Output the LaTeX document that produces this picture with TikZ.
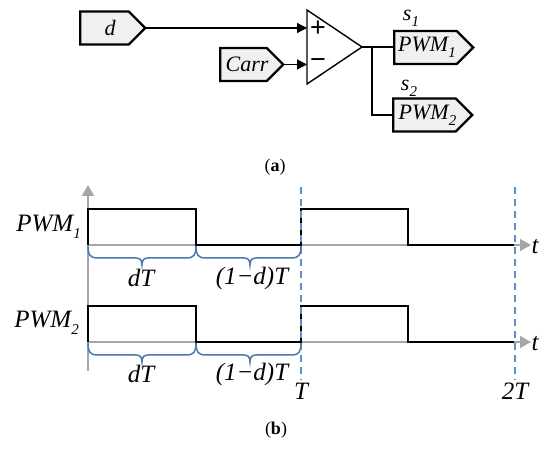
\documentclass[tikz,border=0pt]{standalone}
\usepackage{fontspec}
\setmainfont{Liberation Serif}
\setsansfont{Liberation Sans}
\usetikzlibrary{arrows.meta,shapes.geometric,shapes.symbols}
\definecolor{cfill}{HTML}{F0F0F0}
\definecolor{caxis}{HTML}{A6A6A6}
\definecolor{cdash}{HTML}{5B8FD0}
\definecolor{cbrace}{HTML}{4A78B0}
\newcommand{\lowidx}[1]{\raisebox{-0.28em}{\fontsize{15}{15}\selectfont #1}}
\newcommand{\pwm}[1]{PWM\lowidx{#1}}
\newcommand{\inset}[2]{\makebox[0pt]{\kern#1pt #2}}

\begin{document}
\begin{tikzpicture}[
  x=1pt, y=-1pt,
  inout/.style={signal, signal to=east, signal pointer angle=90, draw, fill=cfill, line width=2.2pt,
                inner sep=0pt, outer sep=0pt, minimum height=33pt, minimum width=#1,
                font=\fontsize{22}{24}\selectfont\itshape},
  comparator/.style={isosceles triangle, isosceles triangle stretches, draw, line width=1.4pt, fill=white,
                inner sep=0pt, outer sep=0pt, minimum width=74pt, minimum height=55pt, anchor=apex},
  wire/.style={line width=1.3pt},
  input/.style={-{Triangle[length=10pt,width=10pt]}, line width=1.3pt},
  axis/.style={-{Triangle[length=11pt,width=12pt]}, line width=1.6pt, draw=caxis},
  wave/.style={line width=1.5pt, line join=miter},
  period/.style={line width=1.1pt, draw=cdash, dash pattern=on 7pt off 5pt},
  span/.style={line width=1.5pt, draw=cbrace},
  lbl/.style={font=\fontsize{25}{27}\selectfont\itshape, inner sep=0pt},
  sig/.style={font=\fontsize{22}{24}\selectfont\itshape, inner sep=0pt},
  subcap/.style={font=\fontsize{18}{20}\selectfont, inner sep=0pt},
  sign/.style={font=\sffamily\fontsize{27}{27}\selectfont, inner sep=0pt},
]
\useasboundingbox (0,0) rectangle (550,449);

% ------------------------------------------------------------ (a)
\node[inout=65pt] (d) at (104.5,28) {\inset{11}{d}};
\node[inout=63pt] (carr) at (243.5,64.5) {\inset{7}{Carr}};
\node[comparator] (cmp) at (362,47) {};
\node[sign] (plus) at (318,29) {+};
\node[sign] (minus) at (318,64) {−};
\node[inout=79pt] (pwm1) at (425.5,47.5) {\inset{3}{\pwm{1}}};
\node[inout=79pt] (pwm2) at (424.5,115) {\inset{6}{\pwm{2}}};
\node[sig] (s1) at (411,18) {s\lowidx{1}};
\node[sig] (s2) at (409,88) {s\lowidx{2}};
\coordinate (split) at (372,47);

\draw[input] (d.east) -- (cmp.west |- d.east);
\draw[input] (carr.east) -- (cmp.west |- carr.east);
\draw[wire] (cmp.apex) -- (pwm1.west |- cmp.apex);
\draw[wire] (split) |- (pwm2.west);

\node[subcap] (capa) at (275,167) {(\textbf{a})};

% ------------------------------------------------------------ (b)
\draw[axis] (88,371) -- (88,185);
\foreach \y in {245,342}{
  \draw[axis] (88,\y) -- (531,\y);
  \draw[wave] (88,\y) -- ++(0,-36) -| (196,\y) -- (301,\y) -- ++(0,-36) -| (408,\y) -- (514,\y);
}
\draw[period] (301,187) -- (301,380);
\draw[period] (515,187) -- (515,380);

% braces under the two parts of each period
\foreach \y in {246,343}{
  \foreach \a/\m/\b in {88/142/196,196/250/301}{
    \draw[span] (\a,\y) .. controls (\a,\y+9) and (\a+2,\y+12) .. (\a+10,\y+12) -- (\m-6,\y+12)
      .. controls (\m-2,\y+12) and (\m,\y+14) .. (\m,\y+19)
      .. controls (\m,\y+14) and (\m+2,\y+12) .. (\m+6,\y+12) -- (\b-10,\y+12)
      .. controls (\b-2,\y+12) and (\b,\y+9) .. (\b,\y);
  }
}

\node[lbl, anchor=east] (pwma) at (81,227) {\pwm{1}};
\node[lbl, anchor=east] (pwmb) at (79,323) {\pwm{2}};
\node[lbl] (dta) at (141,278) {dT};
\node[lbl] (dtb) at (141,374) {dT};
\node[lbl] (rta) at (252,278) {(1−d)T};
\node[lbl] (rtb) at (252,374) {(1−d)T};
\node[lbl] (ta) at (535,247) {t};
\node[lbl] (tb) at (535,344) {t};
\node[lbl] (per) at (301,391) {T};
\node[lbl] (twoper) at (515,391) {2T};
\node[subcap] (capb) at (276,430) {(\textbf{b})};
\end{tikzpicture}
\end{document}
